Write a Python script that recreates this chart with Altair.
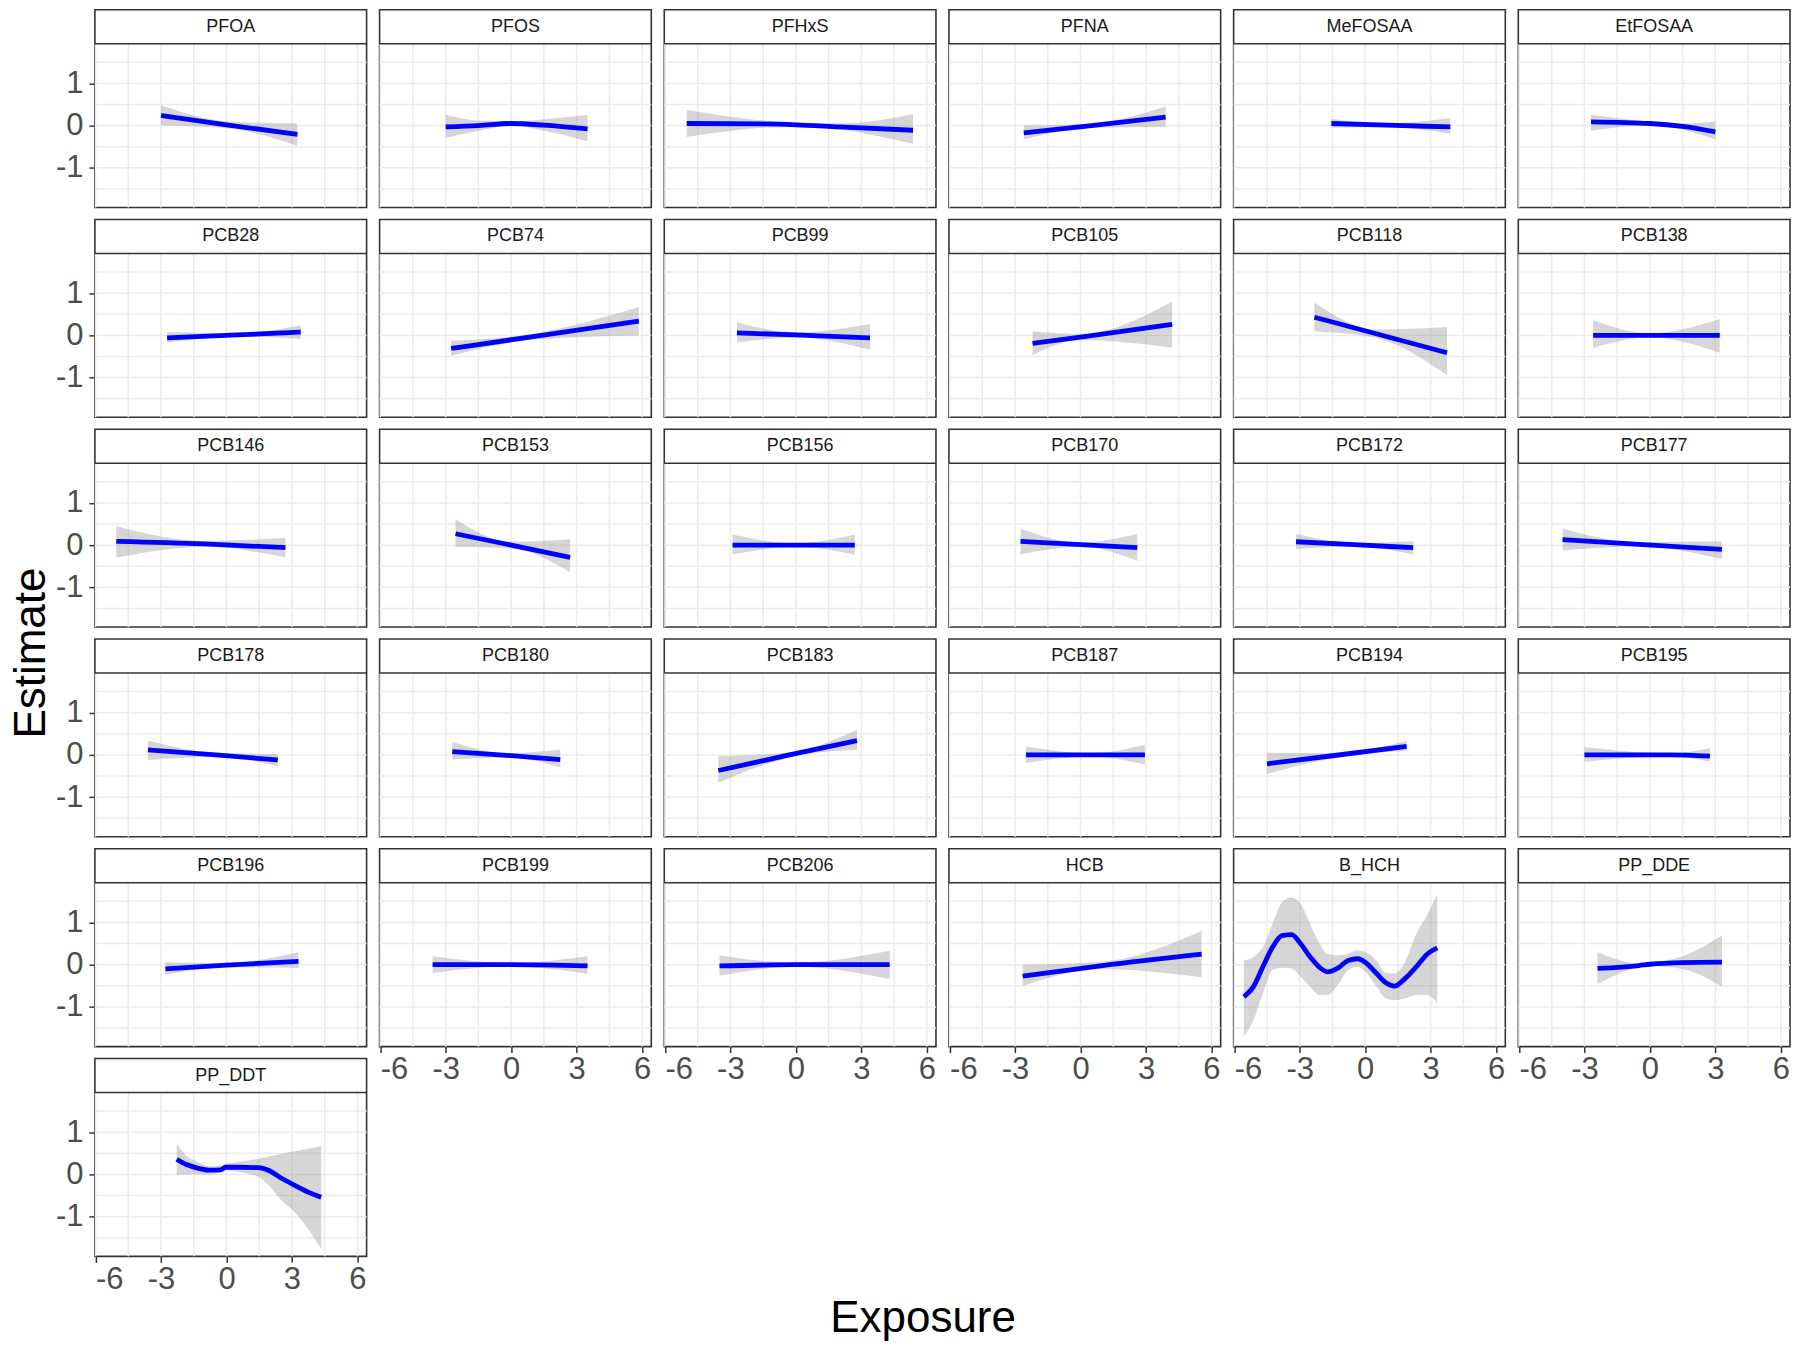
import altair as alt
import pandas as pd

# ---------------- data ----------------
PFOA_x = [-3.0, 0.0, 3.25]
PFOA_y = [0.24, 0.02, -0.21]
PFOA_lo = [0.0, -0.06, -0.48]
PFOA_hi = [0.48, 0.10, 0.05]

PFOS_x = [-3.0, -1.5, 0.0, 1.5, 3.5]
PFOS_y = [-0.03, 0.0, 0.05, 0.01, -0.08]
PFOS_lo = [-0.29, -0.12, 0.0, -0.12, -0.37]
PFOS_hi = [0.26, 0.12, 0.10, 0.15, 0.26]

PFHxS_x = [-5.0, -1.5, 0.0, 2.0, 5.37]
PFHxS_y = [0.05, 0.04, 0.02, -0.03, -0.11]
PFHxS_lo = [-0.27, -0.05, -0.03, -0.10, -0.43]
PFHxS_hi = [0.37, 0.12, 0.07, 0.05, 0.27]

PFNA_x = [-2.6, 0.5, 3.9]
PFNA_y = [-0.17, 0.0, 0.20]
PFNA_lo = [-0.33, -0.05, -0.03]
PFNA_hi = [0.0, 0.05, 0.45]

MeFOSAA_x = [-1.55, 1.0, 3.9]
MeFOSAA_y = [0.05, 0.01, -0.03]
MeFOSAA_lo = [-0.05, -0.03, -0.19]
MeFOSAA_hi = [0.16, 0.05, 0.18]

EtFOSAA_x = [-2.7, 0.0, 1.5, 3.0]
EtFOSAA_y = [0.09, 0.05, -0.02, -0.15]
EtFOSAA_lo = [-0.12, 0.0, -0.10, -0.33]
EtFOSAA_hi = [0.26, 0.10, 0.05, 0.10]

PCB28_x = [-2.72, 0.5, 3.4]
PCB28_y = [-0.06, 0.01, 0.08]
PCB28_lo = [-0.17, -0.03, -0.08]
PCB28_hi = [0.08, 0.05, 0.24]

PCB74_x = [-2.75, 1.0, 5.85]
PCB74_y = [-0.31, -0.03, 0.34]
PCB74_lo = [-0.48, -0.10, 0.0]
PCB74_hi = [-0.13, 0.04, 0.67]

PCB99_x = [-2.7, 0.0, 3.4]
PCB99_y = [0.06, 0.01, -0.06]
PCB99_lo = [-0.17, -0.05, -0.34]
PCB99_hi = [0.31, 0.07, 0.27]

PCB105_x = [-2.2, 0.0, 4.2]
PCB105_y = [-0.19, -0.04, 0.26]
PCB105_lo = [-0.47, -0.11, -0.29]
PCB105_hi = [0.10, 0.03, 0.80]

PCB118_x = [-2.33, 0.5, 3.75]
PCB118_y = [0.43, 0.04, -0.41]
PCB118_lo = [0.10, -0.06, -0.94]
PCB118_hi = [0.78, 0.14, 0.20]

PCB138_x = [-2.6, 0.0, 3.2]
PCB138_y = [0.0, 0.0, 0.0]
PCB138_lo = [-0.29, -0.05, -0.41]
PCB138_hi = [0.36, 0.05, 0.39]

PCB146_x = [-5.05, -1.0, 2.7]
PCB146_y = [0.09, 0.03, -0.06]
PCB146_lo = [-0.30, -0.04, -0.29]
PCB146_hi = [0.45, 0.10, 0.17]

PCB153_x = [-2.55, 0.0, 2.7]
PCB153_y = [0.27, 0.0, -0.29]
PCB153_lo = [-0.04, -0.08, -0.64]
PCB153_hi = [0.61, 0.08, 0.14]

PCB156_x = [-2.9, 0.0, 2.7]
PCB156_y = [0.0, 0.0, 0.0]
PCB156_lo = [-0.22, -0.04, -0.23]
PCB156_hi = [0.25, 0.04, 0.25]

PCB170_x = [-2.75, 0.0, 2.6]
PCB170_y = [0.09, 0.01, -0.06]
PCB170_lo = [-0.22, -0.04, -0.37]
PCB170_hi = [0.39, 0.06, 0.27]

PCB172_x = [-3.17, -0.5, 2.2]
PCB172_y = [0.08, 0.01, -0.06]
PCB172_lo = [-0.09, -0.03, -0.22]
PCB172_hi = [0.27, 0.05, 0.09]

PCB177_x = [-4.0, -0.5, 3.3]
PCB177_y = [0.13, 0.02, -0.10]
PCB177_lo = [-0.12, -0.03, -0.33]
PCB177_hi = [0.39, 0.07, 0.09]

PCB178_x = [-3.6, -0.5, 2.35]
PCB178_y = [0.12, 0.0, -0.12]
PCB178_lo = [-0.12, -0.05, -0.27]
PCB178_hi = [0.34, 0.05, 0.02]

PCB180_x = [-2.7, -0.2, 2.25]
PCB180_y = [0.08, -0.01, -0.11]
PCB180_lo = [-0.11, -0.06, -0.29]
PCB180_hi = [0.31, 0.04, 0.12]

PCB183_x = [-3.55, -0.3, 2.8]
PCB183_y = [-0.37, 0.0, 0.34]
PCB183_lo = [-0.66, -0.06, 0.12]
PCB183_hi = [-0.03, 0.06, 0.59]

PCB187_x = [-2.5, 0.5, 2.95]
PCB187_y = [0.0, 0.0, 0.0]
PCB187_lo = [-0.19, -0.04, -0.23]
PCB187_hi = [0.20, 0.04, 0.24]

PCB194_x = [-4.5, -1.5, 1.9]
PCB194_y = [-0.21, -0.02, 0.20]
PCB194_lo = [-0.45, -0.08, 0.10]
PCB194_hi = [0.05, 0.04, 0.33]

PCB195_x = [-3.0, 0.9, 2.75]
PCB195_y = [0.0, 0.0, -0.03]
PCB195_lo = [-0.16, -0.04, -0.16]
PCB195_hi = [0.19, 0.04, 0.16]

PCB196_x = [-2.8, 0.0, 3.3]
PCB196_y = [-0.10, -0.01, 0.08]
PCB196_lo = [-0.24, -0.06, -0.08]
PCB196_hi = [0.06, 0.04, 0.30]

PCB199_x = [-3.6, 0.0, 3.5]
PCB199_y = [0.0, 0.0, -0.03]
PCB199_lo = [-0.20, -0.04, -0.22]
PCB199_hi = [0.20, 0.04, 0.20]

PCB206_x = [-3.5, 0.0, 4.3]
PCB206_y = [-0.03, 0.0, 0.0]
PCB206_lo = [-0.26, -0.05, -0.34]
PCB206_hi = [0.22, 0.05, 0.33]

HCB_x = [-2.65, 1.0, 5.55]
HCB_y = [-0.27, -0.02, 0.25]
HCB_lo = [-0.50, -0.10, -0.30]
HCB_hi = [0.0, 0.07, 0.80]

B_HCH_x = [-5.56, -5.12, -4.69, -4.25, -3.82, -3.38, -2.95, -2.52, -2.08, -1.74, -1.22,
           -0.78, -0.35, 0.0, 0.52, 0.95, 1.34, 1.82, 2.34, 2.86, 3.3]
B_HCH_y = [-0.76, -0.52, -0.05, 0.41, 0.69, 0.71, 0.49, 0.18, -0.07, -0.17, -0.07,
           0.10, 0.14, 0.06, -0.21, -0.43, -0.51, -0.33, -0.05, 0.26, 0.40]
B_HCH_lo = [-1.70, -1.31, -0.68, -0.13, -0.07, -0.09, -0.29, -0.52, -0.72, -0.72, -0.45,
            -0.13, -0.05, -0.17, -0.52, -0.80, -0.84, -0.80, -0.72, -0.72, -0.92]
B_HCH_hi = [0.10, 0.18, 0.41, 0.96, 1.47, 1.59, 1.43, 0.96, 0.49, 0.26, 0.22,
            0.26, 0.34, 0.30, 0.10, -0.20, -0.21, 0.06, 0.73, 1.20, 1.67]

PP_DDE_x = [-2.4, -0.5, 0.0, 1.5, 3.3]
PP_DDE_y = [-0.09, -0.02, 0.01, 0.05, 0.06]
PP_DDE_lo = [-0.46, -0.06, -0.03, -0.10, -0.52]
PP_DDE_hi = [0.30, 0.03, 0.05, 0.20, 0.69]

PP_DDT_x = [-2.28, -1.86, -1.33, -0.8, -0.27, -0.05, 0.56, 1.47, 1.92, 2.52, 3.13, 3.74, 4.34]
PP_DDT_y = [0.36, 0.24, 0.15, 0.10, 0.11, 0.17, 0.17, 0.16, 0.10, -0.09, -0.26, -0.42, -0.54]
PP_DDT_lo = [-0.02, 0.0, 0.0, 0.0, 0.05, 0.10, 0.06, -0.06, -0.25, -0.62, -0.90, -1.30, -1.77]
PP_DDT_hi = [0.73, 0.45, 0.30, 0.19, 0.20, 0.25, 0.30, 0.37, 0.42, 0.49, 0.55, 0.61, 0.67]

NAMES = ["PFOA", "PFOS", "PFHxS", "PFNA", "MeFOSAA", "EtFOSAA",
         "PCB28", "PCB74", "PCB99", "PCB105", "PCB118", "PCB138",
         "PCB146", "PCB153", "PCB156", "PCB170", "PCB172", "PCB177",
         "PCB178", "PCB180", "PCB183", "PCB187", "PCB194", "PCB195",
         "PCB196", "PCB199", "PCB206", "HCB", "B_HCH", "PP_DDE",
         "PP_DDT"]

X_TICKS = [-6, -3, 0, 3, 6]
Y_TICKS = [-1, 0, 1]
X_GRID = [-6, -4.5, -3, -1.5, 0, 1.5, 3, 4.5, 6]
Y_GRID = [-1.5, -1, -0.5, 0, 0.5, 1, 1.5]
Y_TITLE = ["Estimate"]
X_TITLE = "Exposure"

# ---------------- layout / style ----------------
G = globals()
PANEL_W = 272
PANEL_H = 198
STRIP_H = 34
ROW_GAP = 12
COL_GAP = 13
YMIN, YMAX = -1.94, 1.94
XMIN, XMAX = -6.03, 6.42
YTOP = YMAX + (YMAX - YMIN) * STRIP_H / (PANEL_H - STRIP_H)
STRIP_MID = (YMAX + YTOP) / 2
FONT = "Liberation Sans"
NCOL = 6
NROW = (len(NAMES) + NCOL - 1) // NCOL
GRID_H = NROW * PANEL_H + (NROW - 1) * ROW_GAP
YT_W = 44

XS = alt.Scale(domain=[XMIN, XMAX], nice=False, zero=False)
YS = alt.Scale(domain=[YMIN, YTOP], nice=False, zero=False)


def make_axis(values, pad):
    return alt.Axis(values=values, grid=False, domain=False, title=None,
                    tickSize=6, tickColor="#333333", tickWidth=1.5,
                    labelFontSize=31, labelColor="#4D4D4D", labelFont=FONT,
                    labelPadding=pad, labelExpr="'' + datum.value")


def panel(i, name):
    df = pd.DataFrame({"x": G[name + "_x"], "est": G[name + "_y"],
                       "lo": G[name + "_lo"], "hi": G[name + "_hi"]})
    show_x = i >= len(NAMES) - NCOL
    show_y = i % NCOL == 0
    xaxis = make_axis(X_TICKS, 2) if show_x else None
    yaxis = make_axis(Y_TICKS, 6) if show_y else None

    def X(f):
        return alt.X(f, type="quantitative", scale=XS, axis=xaxis)

    def Y(f):
        return alt.Y(f, type="quantitative", scale=YS, axis=yaxis)

    def YD(v):
        return alt.YDatum(v, scale=YS, axis=yaxis)

    grid_v = alt.Chart(pd.DataFrame({"g": X_GRID})).mark_rule(
        color="#EBEBEB", strokeWidth=1.5).encode(
        x=X("g"), y=YD(YMIN), y2=alt.datum(YMAX))
    grid_h = alt.Chart(pd.DataFrame({"g": Y_GRID})).mark_rule(
        color="#EBEBEB", strokeWidth=1.5).encode(y=Y("g"))
    band = alt.Chart(df).mark_area(
        color="#999999", opacity=0.4, interpolate="monotone").encode(
        x=X("x"), y=Y("lo"), y2="hi")
    line = alt.Chart(df).mark_line(
        color="#0000FF", strokeWidth=4.8, interpolate="monotone").encode(
        x=X("x"), y=Y("est"))
    sdf = pd.DataFrame({"name": [name]})
    sep = alt.Chart(sdf).mark_rule(color="#333333", strokeWidth=1.6).encode(y=YD(YMAX))
    txt = alt.Chart(sdf).mark_text(
        fontSize=18, color="#1A1A1A", font=FONT, baseline="middle", align="center").encode(
        x=alt.value(PANEL_W / 2), y=YD(STRIP_MID), text="name:N")
    return alt.layer(grid_v, grid_h, band, line, sep, txt).properties(
        width=PANEL_W, height=PANEL_H)


panels = [panel(i, n) for i, n in enumerate(NAMES)]

grid = alt.concat(
    *panels, columns=NCOL, bounds="flush",
    spacing={"row": ROW_GAP, "column": COL_GAP},
    title=alt.TitleParams(X_TITLE, orient="bottom", fontSize=44, font=FONT,
                          fontWeight="normal", color="black", anchor="middle",
                          frame="bounds", offset=2),
)

ytitle = alt.Chart(pd.DataFrame({"t": Y_TITLE})).mark_text(
    angle=270, fontSize=44, font=FONT, color="black", baseline="middle",
    align="center").encode(
    text="t:N", x=alt.value(YT_W / 2 + 2), y=alt.value(GRID_H / 2 + 20)
).properties(width=YT_W, height=GRID_H, view=alt.ViewBackground(strokeOpacity=0))

chart = alt.hconcat(ytitle, grid, spacing=0).properties(
    padding=0, background="white"
).configure_view(stroke="#333333", strokeWidth=1.6)

chart.save("out.html", embed_options={"renderer": "svg", "actions": False})
